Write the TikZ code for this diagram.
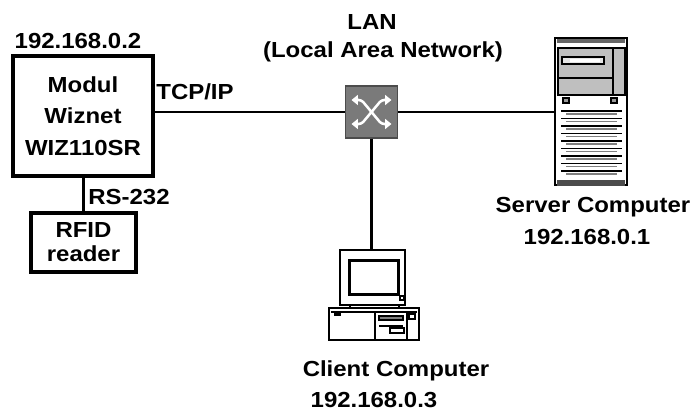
\documentclass[tikz,border=0pt]{standalone}
\usepackage{fontspec}
\setmainfont[FakeStretch=1.1]{Liberation Sans}
\usetikzlibrary{arrows.meta}

\begin{document}
\begin{tikzpicture}[x=0.025cm, y=-0.025cm,
    txt/.style = {font=\bfseries\fontsize{15.5}{18}\selectfont, inner sep=0pt},
    lbl/.style = {txt, anchor=base},
    box/.style = {draw, line width=2.3pt, align=center, txt},
    wire/.style = {line width=2.1pt},
    thin/.style = {line width=0.8pt},
    swarrow/.style = {white, line width=1.8pt, rounded corners=2pt,
        {Triangle[width=7pt,length=4.5pt]}-{Triangle[width=7pt,length=4.5pt]}}]
    \useasboundingbox (0,0) rectangle (695,412);

    \node[box, minimum width=3.5cm, minimum height=3cm,
        font=\bfseries\fontsize{15.5}{22.5}\selectfont] (modul) at (83,116) {Modul\\Wiznet\\WIZ110SR};
    \node[box, minimum width=2.625cm, minimum height=1.475cm,
        font=\bfseries\fontsize{15.5}{17}\selectfont] (rfid) at (83.5,242.5) {RFID\\reader};
    \node[draw=black!70, thin, fill=black!52, minimum size=1.3cm, inner sep=0pt] (switch) at (371.5,112) {};
    \node[draw, thin, fill=white, minimum width=1.8cm, minimum height=3.675cm, inner sep=0pt] (server) at (591,111.5) {};
    \node[draw, thin, minimum width=1.625cm, minimum height=1.375cm, inner sep=0pt] (monitor) at (372.5,277.5) {};
    \node[draw, thin, minimum width=2.25cm, minimum height=0.8cm, inner sep=0pt] (case) at (374,324) {};

    \node[lbl] (ipmodul) at (78,48.5) {192.168.0.2};
    \node[lbl] (lan) at (372,29.5) {LAN};
    \node[lbl] (lanname) at (383,57.5) {(Local Area Network)};
    \node[lbl] (tcpip) at (195,99.5) {TCP/IP};
    \node[lbl] (rs) at (129,204.5) {RS-232};
    \node[lbl] (srvname) at (593,212.5) {Server Computer};
    \node[lbl] (srvip) at (587,244.5) {192.168.0.1};
    \node[lbl] (cltname) at (396,376.5) {Client Computer};
    \node[lbl] (cltip) at (374,407) {192.168.0.3};

    \draw[wire] (switch.west) -- (switch.west -| modul.east);
    \draw[wire] (switch.east) -- (switch.east -| server.west);
    \draw[wire] (switch.south) -- (switch.south |- monitor.north);
    \draw[wire] (rfid.north |- modul.south) -- (rfid.north);

    \draw[swarrow] ([shift={(-20,-12)}]switch.center) -- ++(10,0) -- ++(20,24) -- ++(10,0);
    \draw[swarrow] ([shift={(-20,12)}]switch.center) -- ++(10,0) -- ++(20,-24) -- ++(10,0);

    \fill[black!60] (557,39) rectangle (625,43);
    \filldraw[fill=black!25, thin] (558,48) rectangle (625,95);
    \draw[thin] (613,48) -- (613,95) (558,78) -- (613,78);
    \draw[thin, fill=black!10] (562,57) rectangle (604,64);
    \fill[white] (570,59.5) rectangle (600,62);
    \filldraw[fill=black!40, thin] (563,98) rectangle (569,103) (611,98) rectangle (617,103);
    \foreach \y in {111,118.5,...,171} {
        \draw[line width=1pt] (561,\y) -- (622,\y);
        \draw[thin, black!50] (566,\y+3) -- (617,\y+3);
    }
    \fill[black!70] (557,180) rectangle (625,186);

    \draw[line width=2.6pt] (349.5,260.5) rectangle (398.5,294.5);
    \draw[thin] (400,296) rectangle (404,300);
    \draw[thin] (350,305) rectangle (399,308);
    \draw[thin] (331,312) -- (417,312) (375,312) -- (375,340) (407,312) -- (407,340);
    \fill (334,313) rectangle (341,316);
    \filldraw[thin, fill=black!50] (379,316) rectangle (403,320);
    \draw[thin] (379,326) -- (403,326) (390,328) rectangle (404,333) (409,314) rectangle (415,319);
\end{tikzpicture}
\end{document}
